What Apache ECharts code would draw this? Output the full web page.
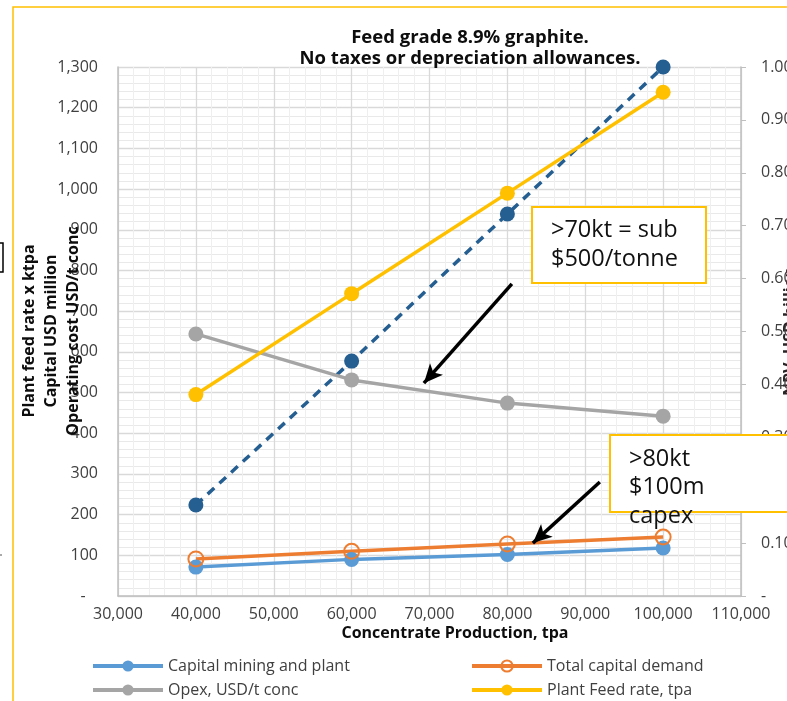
<!DOCTYPE html>
<html>
<head>
<meta charset="utf-8">
<script src="https://cdn.jsdelivr.net/npm/echarts@6/dist/echarts.min.js"></script>
<style>
html,body{margin:0;padding:0;background:#fff;}
#c{width:787px;height:701px;}
</style>
</head>
<body>
<div id="c"></div>
<script>
// ---- data ----
const production = [40000, 60000, 80000, 100000];
const capitalMining = [71, 90, 102, 118];
const totalCapital = [91, 110, 128, 145];
const opex = [644, 531, 474, 442];
const feedRate = [495, 743, 990, 1238];
const npv = [0.172, 0.444, 0.722, 1.0];
const xTicks = {min: 30000, max: 110000, step: 10000};
const leftTicks = {min: 0, max: 1300, step: 100};
const rightTicks = {min: 0, max: 1.0, step: 0.1};
const titleLines = ['Feed grade 8.9% graphite.', 'No taxes or depreciation allowances.'];
const leftAxisTitle = ['Plant feed rate x ktpa', 'Capital USD million', 'Operating cost USD/t conc'];
const names = ['Capital mining and plant', 'Total capital demand', 'Opex, USD/t conc', 'Plant Feed rate, tpa', 'NPV'];
// annotation arrows in data space [x, y]
const arrow1 = [[80578, 767], [69281, 523]];
const arrow2 = [[91875, 280], [83273, 130]];

const pairs = v => production.map((x, i) => [x, v[i]]);
const FONT = '"Open Sans", "Noto Sans", sans-serif';
const fmtK = v => v === 0 ? '-   ' : v.toLocaleString('en-US');

const chart = echarts.init(document.getElementById('c'));
const lineSeries = (name, data, color, extra) => Object.assign({
  name, type: 'line', data: pairs(data), symbol: 'circle', symbolSize: 15,
  lineStyle: {color, width: 3.5}, itemStyle: {color}, animation: false,
  emphasis: {disabled: true}
}, extra || {});

const arrowML = (a) => ({
  silent: true, symbol: ['none', 'arrow'], symbolSize: [13, 19],
  lineStyle: {color: '#000', width: 3.5, type: 'solid'},
  label: {show: false}, emphasis: {disabled: true},
  data: [[{coord: a[0]}, {coord: a[1]}]]
});

const legendItem = (name, left, top) => ({
  data: [name], left, top, padding: 0, orient: 'horizontal',
  itemWidth: 70, itemHeight: 14, itemGap: 6,
  lineStyle: {width: 4},
  textStyle: {color: '#404040', fontSize: 16, fontFamily: FONT}
});

chart.setOption({
  animation: false,
  backgroundColor: '#fff',
  textStyle: {fontFamily: FONT},
  grid: {left: 118, right: 46, top: 67, bottom: 105, containLabel: false, outerBoundsMode: 'none'},
  xAxis: {
    type: 'value', min: xTicks.min, max: xTicks.max, interval: xTicks.step,
    axisLine: {show: true, lineStyle: {color: '#bfbfbf', width: 1.5}},
    axisTick: {show: false},
    axisLabel: {color: '#404040', fontSize: 16, margin: 10, formatter: v => v.toLocaleString('en-US')},
    splitLine: {show: true, lineStyle: {color: '#d9d9d9', width: 1.3}},
    minorTick: {show: false, splitNumber: 5},
    minorSplitLine: {show: true, lineStyle: {color: '#efefef', width: 1}}
  },
  yAxis: [{
    type: 'value', min: leftTicks.min, max: leftTicks.max, interval: leftTicks.step,
    position: 'left',
    axisLine: {show: true, lineStyle: {color: '#bfbfbf', width: 1.5}},
    axisTick: {show: false},
    axisLabel: {color: '#404040', fontSize: 16, margin: 20, formatter: fmtK},
    splitLine: {show: true, lineStyle: {color: '#d9d9d9', width: 1.3}},
    minorTick: {show: false, splitNumber: 5},
    minorSplitLine: {show: true, lineStyle: {color: '#e9e9e9', width: 1}}
  }, {
    type: 'value', min: rightTicks.min, max: rightTicks.max, interval: rightTicks.step,
    position: 'right',
    name: 'NPV, USD billion', nameLocation: 'middle', nameGap: 41, nameRotate: 90,
    nameMoveOverlap: false,
    nameTextStyle: {color: '#262626', fontSize: 16, fontWeight: 'bold'},
    axisLine: {show: true, lineStyle: {color: '#bfbfbf', width: 1.5}},
    axisTick: {show: true, length: 5, lineStyle: {color: '#bfbfbf'}},
    axisLabel: {color: '#404040', fontSize: 16, margin: 20, formatter: v => v === 0 ? '-' : v.toFixed(2)},
    splitLine: {show: false}
  }],
  legend: [
    legendItem(names[0], 91, 658),
    legendItem(names[2], 91, 682),
    legendItem(names[1], 470, 658),
    legendItem(names[3], 470, 682)
  ],
  series: [
    lineSeries(names[4], npv, '#255E91', {yAxisIndex: 1, lineStyle: {color: '#255E91', width: 3.5, type: [9, 7]}, z: 3}),
    lineSeries(names[2], opex, '#A5A5A5', {markLine: arrowML(arrow1)}),
    lineSeries(names[3], feedRate, '#FFC000'),
    lineSeries(names[0], capitalMining, '#5B9BD5'),
    lineSeries(names[1], totalCapital, '#ED7D31', {
      itemStyle: {color: 'rgba(255,255,255,0)', borderColor: '#ED7D31', borderWidth: 2},
      markLine: arrowML(arrow2)
    })
  ],
  graphic: [
    {type: 'rect', shape: {x: 13, y: 7, width: 1000, height: 1000}, style: {fill: 'none', stroke: '#FFC000', lineWidth: 1.5}, z: 0, silent: true},
    {type: 'text', x: 470, y: 27, style: {text: titleLines.join('\n'), font: 'bold 18.5px ' + FONT, fill: '#0d0d0d', align: 'center', lineHeight: 21}, z: 50},
    {type: 'text', x: 455, y: 625, style: {text: 'Concentrate Production, tpa', font: 'bold 16px ' + FONT, fill: '#0d0d0d', align: 'center'}, z: 50},
    {type: 'text', x: 29, y: 331, rotation: Math.PI / 2, style: {text: leftAxisTitle[0], font: 'bold 16px ' + FONT, fill: '#0d0d0d', align: 'center', verticalAlign: 'middle'}, z: 50},
    {type: 'text', x: 51, y: 331, rotation: Math.PI / 2, style: {text: leftAxisTitle[1], font: 'bold 16px ' + FONT, fill: '#0d0d0d', align: 'center', verticalAlign: 'middle'}, z: 50},
    {type: 'text', x: 73, y: 331, rotation: Math.PI / 2, style: {text: leftAxisTitle[2], font: 'bold 16px ' + FONT, fill: '#0d0d0d', align: 'center', verticalAlign: 'middle'}, z: 50},
    {type: 'rect', shape: {x: 532, y: 207, width: 174, height: 76}, style: {fill: '#fff', stroke: '#FFC000', lineWidth: 2}, z: 60},
    {type: 'text', x: 551, y: 216, style: {text: '>70kt = sub\n$500/tonne', font: '23.5px ' + FONT, fill: '#111', lineHeight: 29}, z: 61},
    {type: 'rect', shape: {x: 610, y: 435, width: 250, height: 77}, style: {fill: '#fff', stroke: '#FFC000', lineWidth: 2}, z: 60},
    {type: 'text', x: 629, y: 445, style: {text: '>80kt\n$100m\ncapex', font: '23.5px ' + FONT, fill: '#111', lineHeight: 28.5}, z: 61},
    {type: 'polyline', shape: {points: [[0, 243], [3, 243], [3, 272], [0, 272]]}, style: {stroke: '#000', lineWidth: 1.5, fill: 'none'}, z: 50},
    {type: 'line', shape: {x1: 0, y1: 555, x2: 2, y2: 555}, style: {stroke: '#555', lineWidth: 1}, z: 50}
  ]
});
</script>
</body>
</html>
